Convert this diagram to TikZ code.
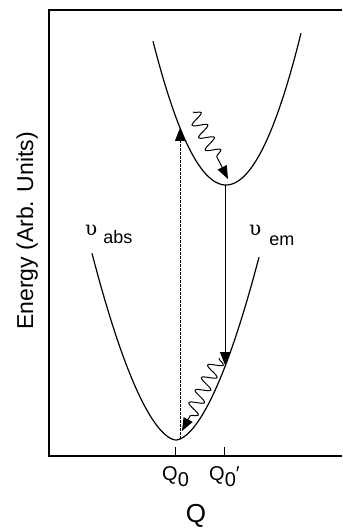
\documentclass[tikz,border=0pt]{standalone}
\usepackage{fontspec}
\setmainfont{Liberation Sans}
\newfontfamily\grk{DejaVu Serif}
\usetikzlibrary{arrows.meta,decorations.pathmorphing}
\begin{document}
\begin{tikzpicture}[x=1pt,y=-1pt,
  axis/.style={line width=1.5pt},
  curve/.style={line width=1.2pt},
  tick/.style={line width=1pt},
  trans/.style={line width=1pt,-{Triangle[width=10pt,length=13pt]}},
  wave/.style={line width=1pt, decorate,
    decoration={snake,amplitude=7pt,segment length=14pt}},
  lbl/.style={inner sep=0pt}]
\useasboundingbox (0,0) rectangle (342,529);
% axes
\coordinate (o) at (49,456);
\coordinate (ytop) at (49,10);
\coordinate (xr) at (342,456);
\coordinate (tr) at (342,10);
\draw[axis] (xr) -- (o) -- (ytop) -- (tr);
% ticks
\coordinate (q0t) at (175,447);
\coordinate (q1t) at (224,447);
\draw[tick] (q0t) -- (q0t |- o);
\draw[tick] (q1t) -- (q1t |- o);
% curves
\draw[curve] plot[domain=-84:83,samples=90] ({176+\x},{440-0.0875*pow(abs(\x)+0.01,1.73)});
\draw[curve] plot[domain=-73:75,samples=90] ({226+\x},{185-0.027*\x*\x});
% transitions
\coordinate (absbot) at (180,439);
\coordinate (abstop) at (180,128);
\coordinate (emtop) at (225,185);
\coordinate (embot) at (225,365);
\draw[trans, dash pattern=on 3pt off 1pt] (absbot) -- (abstop);
\draw[trans] (emtop) -- (embot);
% relaxation waves
\coordinate (w1s) at (193,112);
\coordinate (w1m) at (220,163);
\coordinate (w1e) at (228,179);
\draw[wave] (w1s) -- (w1m);
\draw[trans] (w1m) -- (w1e);
\coordinate (w2s) at (219,358);
\coordinate (w2m) at (190,416);
\coordinate (w2e) at (182,431);
\draw[wave] (w2s) -- (w2m);
\draw[trans] (w2m) -- (w2e);
% labels
\node[lbl, rotate=90, anchor=base, font=\fontsize{23}{25}\selectfont] (ylab) at (33,231) {Energy (Arb. Units)};
\node[lbl, anchor=base west, font=\fontsize{18}{20}\selectfont] (nuabs) at (85,235) {{\grk\fontsize{20}{22}\selectfont υ}\hspace{6pt}\raisebox{-8pt}{abs}};
\node[lbl, anchor=base west, font=\fontsize{18}{20}\selectfont] (nuem) at (249,235) {{\grk\fontsize{20}{22}\selectfont υ}\hspace{8pt}\raisebox{-10pt}{em}};
\node[lbl, anchor=base west, font=\fontsize{20}{22}\selectfont] (q0) at (162,480) {Q\raisebox{-6pt}{0}};
\node[lbl, anchor=base west, font=\fontsize{20}{22}\selectfont] (q1) at (209,480) {Q\raisebox{-6pt}{0}′};
\node[lbl, anchor=base, font=\fontsize{26}{28}\selectfont] (qlab) at (196,522) {Q};
\end{tikzpicture}
\end{document}
